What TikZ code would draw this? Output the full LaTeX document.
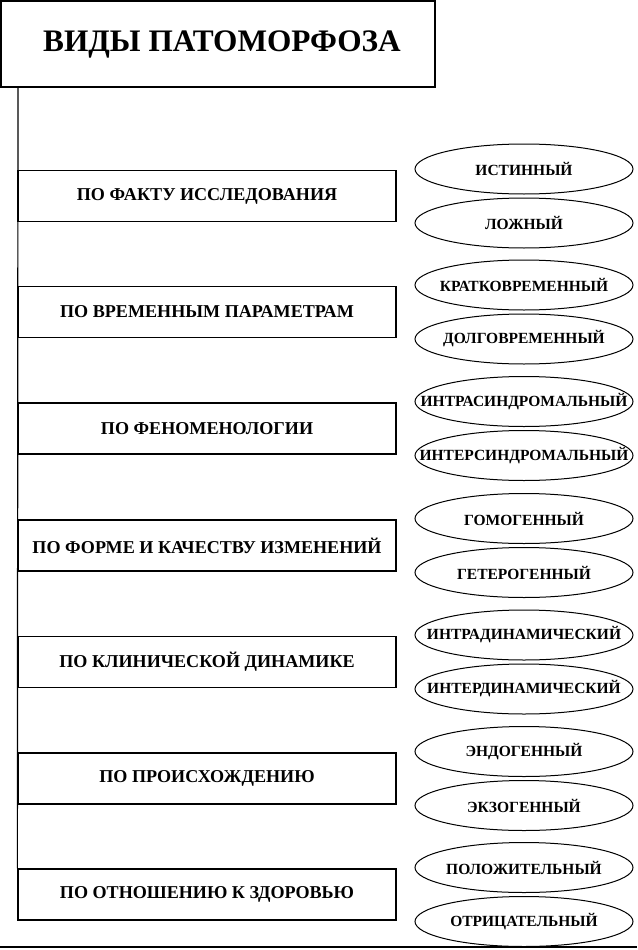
\documentclass[tikz,border=0pt]{standalone}
\usepackage{fontspec}
\setmainfont{Liberation Serif}[BoldFont={Liberation Serif Bold}]
\usetikzlibrary{shapes.geometric}
\newcommand\inside[1]{\makebox[0pt]{#1}}
\tikzset{
  titlebox/.style={draw, line width=1.3pt, minimum width=434pt, minimum height=86pt, inner sep=0pt, font=\fontsize{31.3}{36}\selectfont\bfseries},
  catbox/.style={draw, line width=1.3pt, minimum width=378pt, minimum height=51pt, inner sep=0pt, font=\fontsize{18.1}{20}\selectfont\bfseries},
  kind/.style={draw, ellipse, line width=1pt, minimum width=218pt, minimum height=50pt, inner sep=0pt, font=\fontsize{15.5}{18}\selectfont\bfseries},
  link/.style={line width=1.2pt},
}
\begin{document}
\begin{tikzpicture}[x=1pt,y=-1pt]
\useasboundingbox (0,0) rectangle (637,950);
\node[titlebox] (title) at (218,44) {\inside{\hspace*{8pt}ВИДЫ ПАТОМОРФОЗА}};
\node[catbox] (b1) at (207,196) {ПО ФАКТУ ИССЛЕДОВАНИЯ};
\node[catbox] (b2) at (207,312) {ПО ВРЕМЕННЫМ ПАРАМЕТРАМ};
\node[catbox] (b3) at (207,428.5) {ПО ФЕНОМЕНОЛОГИИ};
\node[catbox] (b4) at (207,545.5) {ПО ФОРМЕ И КАЧЕСТВУ ИЗМЕНЕНИЙ};
\node[catbox] (b5) at (207,662) {ПО КЛИНИЧЕСКОЙ ДИНАМИКЕ};
\node[catbox] (b6) at (207,778.5) {ПО ПРОИСХОЖДЕНИЮ};
\node[catbox] (b7) at (207,894.5) {ПО ОТНОШЕНИЮ К ЗДОРОВЬЮ};
\node[kind] (e1a) at (524,169) {\inside{ИСТИННЫЙ}};
\node[kind] (e1b) at (524,223) {\inside{ЛОЖНЫЙ}};
\node[kind] (e2a) at (524,285) {\inside{КРАТКОВРЕМЕННЫЙ}};
\node[kind] (e2b) at (524,339) {\inside{ДОЛГОВРЕМЕННЫЙ}};
\node[kind] (e3a) at (524,401.5) {\inside{ИНТРАСИНДРОМАЛЬНЫЙ}};
\node[kind] (e3b) at (524,455.5) {\inside{ИНТЕРСИНДРОМАЛЬНЫЙ}};
\node[kind] (e4a) at (524,518.5) {\inside{ГОМОГЕННЫЙ}};
\node[kind] (e4b) at (524,572.5) {\inside{ГЕТЕРОГЕННЫЙ}};
\node[kind] (e5a) at (524,635) {\inside{ИНТРАДИНАМИЧЕСКИЙ}};
\node[kind] (e5b) at (524,689) {\inside{ИНТЕРДИНАМИЧЕСКИЙ}};
\node[kind] (e6a) at (524,751.5) {\inside{ЭНДОГЕННЫЙ}};
\node[kind] (e6b) at (524,805.5) {\inside{ЭКЗОГЕННЫЙ}};
\node[kind] (e7a) at (524,867.5) {\inside{ПОЛОЖИТЕЛЬНЫЙ}};
\node[kind] (e7b) at (524,921.5) {\inside{ОТРИЦАТЕЛЬНЫЙ}};
\coordinate (vtop) at (18,87);
\draw[link] (vtop) -- (b7.north west);
\coordinate (baseL) at (0,947);
\coordinate (baseR) at (637,947);
\draw[line width=1.3pt] (baseL) -- (baseR);
\end{tikzpicture}
\end{document}
